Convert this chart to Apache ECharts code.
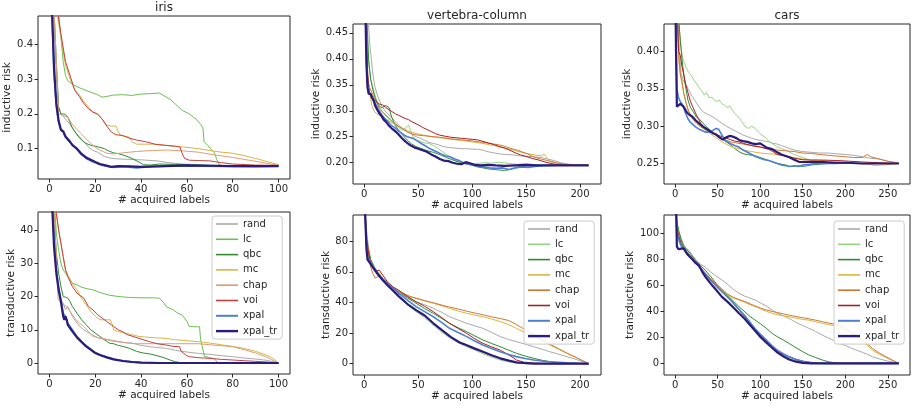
<!DOCTYPE html>
<html><head><meta charset="utf-8">
<script src="https://cdn.jsdelivr.net/npm/echarts@6/dist/echarts.min.js"></script>
<style>html,body{margin:0;padding:0;background:#fff}#c{width:912px;height:406px}</style>
</head><body><div id="c"></div>
<script>
// ---------- names ----------
const seriesNames = ['rand','lc','qbc','mc','chap','voi','xpal','xpal_tr'];
const panelTitles = ['iris','vertebra-column','cars'];

// ---------- tick labels ----------
const irisXTicks = [0,20,40,60,80,100];
const vertXTicks = [0,50,100,150,200];
const carsXTicks = [0,50,100,150,200,250];
const irisIndYTicks = [0.1,0.2,0.3,0.4];
const vertIndYTicks = [0.20,0.25,0.30,0.35,0.40,0.45];
const carsIndYTicks = [0.25,0.30,0.35,0.40];
const irisTrYTicks = [0,10,20,30,40];
const vertTrYTicks = [0,20,40,60,80];
const carsTrYTicks = [0,20,40,60,80,100];

// ---------- iris inductive ----------
const irisInd_rand = [[0,0.67],[2,0.45],[3,0.3],[4,0.22],[5,0.2],[7,0.185],[9,0.17],[11,0.15],[13,0.135],[15,0.12],[17,0.105],[19,0.095],[21,0.09],[24,0.078],[27,0.072],[32,0.07],[40,0.068],[47,0.065],[52,0.06],[58,0.056],[65,0.054],[75,0.052],[85,0.05],[100,0.05]];
const irisInd_lc = [[0,0.67],[3,0.55],[5,0.42],[6,0.35],[7,0.31],[8,0.295],[10,0.285],[12,0.278],[15,0.27],[18,0.262],[21,0.255],[23,0.248],[25,0.25],[28,0.254],[32,0.255],[36,0.253],[40,0.257],[44,0.258],[48,0.26],[50,0.252],[53,0.24],[56,0.222],[58,0.21],[61,0.2],[64,0.185],[66,0.17],[67,0.16],[67.5,0.12],[69,0.11],[71,0.095],[72,0.088],[73,0.07],[74,0.055],[76,0.05],[85,0.05],[100,0.05]];
const irisInd_qbc = [[0,0.67],[2,0.5],[3,0.35],[4,0.22],[5,0.2],[6,0.2],[7,0.198],[8,0.19],[10,0.16],[12,0.14],[14,0.125],[16,0.115],[18,0.11],[20,0.107],[22,0.104],[24,0.1],[26,0.093],[28,0.088],[30,0.086],[33,0.08],[36,0.072],[39,0.062],[41,0.054],[44,0.053],[48,0.056],[55,0.055],[62,0.054],[70,0.052],[80,0.05],[100,0.05]];
const irisInd_mc = [[0,0.67],[3,0.5],[5,0.42],[7,0.34],[9,0.3],[11,0.27],[13,0.255],[15,0.235],[17,0.22],[19,0.205],[21,0.198],[23,0.185],[25,0.168],[27,0.165],[29,0.165],[30,0.15],[31,0.138],[33,0.135],[35,0.133],[36,0.12],[38,0.113],[45,0.113],[50,0.11],[55,0.107],[60,0.104],[65,0.1],[70,0.095],[75,0.09],[80,0.087],[85,0.08],[90,0.072],[95,0.063],[100,0.054]];
const irisInd_chap = [[0,0.67],[2,0.5],[3,0.35],[4,0.2],[6,0.195],[8,0.19],[10,0.17],[12,0.155],[14,0.142],[16,0.128],[18,0.115],[20,0.104],[22,0.096],[25,0.087],[28,0.085],[32,0.088],[38,0.092],[45,0.095],[52,0.096],[58,0.094],[65,0.09],[72,0.082],[80,0.075],[88,0.066],[95,0.058],[100,0.052]];
const irisInd_voi = [[0,0.67],[3,0.52],[5,0.43],[7,0.35],[9,0.31],[11,0.268],[13,0.25],[15,0.23],[17,0.215],[19,0.205],[21,0.2],[23,0.185],[25,0.165],[27,0.148],[29,0.14],[32,0.138],[35,0.13],[38,0.125],[42,0.12],[46,0.113],[50,0.11],[55,0.107],[57,0.105],[58,0.085],[59,0.072],[61,0.067],[65,0.066],[70,0.065],[75,0.06],[80,0.056],[90,0.053],[100,0.052]];
const irisInd_xpal = [[0,0.67],[1,0.5],[2,0.32],[3,0.22],[4,0.175],[5,0.152],[6,0.148],[7,0.133],[8,0.125],[9,0.118],[10,0.112],[12,0.098],[14,0.083],[16,0.072],[18,0.065],[20,0.06],[22,0.054],[25,0.05],[28,0.046],[32,0.049],[38,0.045],[45,0.049],[55,0.05],[65,0.05],[80,0.049],[90,0.048],[100,0.05]];
const irisInd_xpal_tr = [[0,0.67],[1,0.52],[2,0.33],[3,0.23],[4,0.18],[5,0.155],[6,0.15],[7,0.135],[8,0.128],[9,0.12],[10,0.11],[12,0.1],[14,0.085],[16,0.075],[18,0.068],[20,0.062],[22,0.056],[24,0.053],[27,0.048],[30,0.05],[35,0.049],[40,0.048],[50,0.05],[60,0.052],[70,0.051],[80,0.05],[90,0.05],[100,0.05]];

// ---------- iris transductive ----------
const irisTr_rand = [[0,65],[1,55],[2,40],[3,28],[4,22],[5,19],[6,18],[7,16],[8,17],[10,14],[12,12],[14,10.5],[16,9.5],[18,8.8],[20,8],[22,7.4],[25,7],[28,6.5],[32,6.2],[36,6],[40,5.3],[44,4.9],[48,4.6],[51,4.4],[55,3.8],[60,3.3],[65,2.9],[70,2.6],[75,2.2],[80,1.9],[85,1.5],[90,1.2],[95,0.8],[100,0]];
const irisTr_lc = [[0,65],[2,50],[3,39],[4,34],[5,30],[6,28],[7,27],[8,26],[9,25],[10,24],[12,23.5],[14,22.8],[16,22.4],[19,22],[22,21.2],[26,20.4],[30,20],[35,19.7],[40,19.6],[45,19.6],[48,19.5],[50,18],[51,16.9],[54,16],[56,15],[58,14.4],[60,12.5],[61,11],[63,10.9],[65.5,10.9],[66,7],[67,4],[67.7,2],[70,1.6],[72,1.3],[73.5,0],[100,0]];
const irisTr_qbc = [[0,65],[2,45],[3,33],[4,27],[5,23],[6,20],[7,19.8],[8,19.5],[9,18.5],[10,17],[12,15],[14,13],[16,11.5],[18,10],[20,9],[22,8],[24,7],[26,6],[28,5.8],[30,5.3],[32,5],[35,4.4],[38,3.5],[41,3],[44,2.7],[47,2.2],[50,1.6],[53,0.8],[55,0.4],[58,0],[100,0]];
const irisTr_mc = [[0,65],[2,55],[3,45],[4,40],[5,36],[6,32],[7,28],[8,26.5],[10,24],[12,22],[14,19.5],[16,17.5],[18,15.5],[20,14],[22,13],[24,13],[26.5,13],[27.5,11.5],[28,10],[30,9.5],[33,9],[36,8.5],[39,8],[42,7.8],[46,7.6],[51,7.4],[55,7],[60,6.7],[65,6.4],[70,6],[75,5.5],[80,5],[85,4.4],[90,3.5],[95,2.3],[98,1.2],[100,0]];
const irisTr_chap = [[0,65],[2,45],[3,32],[3.8,19],[4,18.4],[6,17.5],[7.5,17],[9,15.5],[11,13.5],[13,12],[15,11],[17,9.5],[19,8],[22,7.5],[26,7],[30,6.5],[34,6],[38,5.8],[45,5.8],[55,5.8],[65,5.8],[70,5.5],[75,5.2],[80,4.9],[85,4],[90,3],[94.5,1.9],[97,1],[100,0]];
const irisTr_voi = [[0,65],[2,55],[3,45],[4,40],[5,36],[6,32],[7,28],[8,26],[10,23],[12,21],[15,19.5],[17,17],[19,16],[21,14.5],[23,13.5],[25,12.5],[27,11.5],[28,11],[30,10],[32,9.4],[34,8.5],[36.5,8],[40,7.2],[43.8,6.4],[47,5.8],[51,5.4],[54,5],[56.8,4.9],[57.5,3.5],[58.3,2.9],[60,2.2],[61,1.9],[65,1.6],[70,1.4],[75,1.1],[80,0.9],[85,0.7],[90,0.5],[95,0.3],[100,0]];
const irisTr_xpal = [[0,65],[1,52],[2,36],[3,28],[4,23],[5,19],[6,15],[7,14],[8,12],[10,10],[12,8],[14,6.5],[16,5.2],[18,4.2],[20,3.2],[22,2.5],[25,1.8],[28,1.2],[32,0.7],[36,0.35],[40,0.15],[48,0],[100,0]];
const irisTr_xpal_tr = [[0,65],[1,50],[2,35],[3,27],[4,22],[5,18.5],[6,14],[6.5,13],[7,14],[7.5,13],[8,11.5],[10,9.5],[12,7.7],[14,6.3],[16,5],[18,4],[20,3],[22,2.4],[25,1.7],[28,1.1],[32,0.6],[36,0.3],[40,0.1],[48,0],[100,0]];

// ---------- vertebra-column inductive ----------
const vertInd_rand = [[0,0.62],[3,0.5],[5,0.43],[6,0.41],[8,0.37],[10,0.345],[13,0.325],[16,0.31],[19,0.3],[22,0.294],[25,0.288],[28,0.281],[32,0.272],[36,0.265],[40,0.26],[44,0.255],[48,0.25],[52,0.247],[56,0.243],[60,0.239],[64,0.237],[68,0.235],[72,0.232],[76,0.23],[80,0.229],[85,0.228],[90,0.227],[95,0.227],[100,0.226],[105,0.226],[110,0.224],[115,0.221],[120,0.219],[125,0.217],[130,0.216],[138,0.215],[145,0.213],[152,0.212],[158,0.211],[164,0.21],[170,0.207],[176,0.204],[182,0.2],[190,0.197],[200,0.196],[208,0.195]];
const vertInd_lc = [[0,0.62],[2,0.48],[4,0.39],[6,0.36],[8,0.345],[10,0.33],[12,0.315],[14,0.307],[17,0.298],[20,0.29],[23,0.284],[26,0.277],[29,0.273],[32,0.268],[35,0.262],[38,0.266],[41,0.272],[43,0.262],[45,0.25],[48,0.244],[52,0.241],[56,0.238],[60,0.237],[64,0.233],[68,0.228],[72,0.222],[76,0.216],[80,0.211],[84,0.205],[88,0.199],[92,0.198],[96,0.199],[100,0.198],[106,0.199],[112,0.2],[118,0.199],[124,0.201],[130,0.2],[136,0.198],[142,0.197],[150,0.198],[160,0.196],[170,0.195],[178,0.195]];
const vertInd_qbc = [[0,0.62],[2,0.5],[4,0.4],[6,0.36],[8,0.34],[10,0.325],[13,0.312],[15,0.307],[17,0.306],[19,0.31],[21,0.309],[23,0.306],[25,0.29],[28,0.275],[31,0.265],[34,0.257],[37,0.25],[40,0.243],[44,0.236],[48,0.231],[52,0.228],[56,0.225],[60,0.222],[64,0.22],[68,0.217],[72,0.214],[76,0.21],[80,0.207],[85,0.203],[90,0.2],[95,0.197],[100,0.195],[105,0.192],[110,0.19],[115,0.188],[120,0.187],[125,0.186],[130,0.185],[135,0.187],[140,0.19],[145,0.193],[150,0.194],[160,0.195],[175,0.195],[190,0.195],[208,0.195]];
const vertInd_mc = [[0,0.62],[2,0.44],[3,0.37],[5,0.335],[7,0.31],[9,0.3],[11,0.295],[14,0.291],[17,0.288],[20,0.284],[24,0.279],[28,0.274],[32,0.27],[36,0.266],[40,0.262],[45,0.258],[50,0.255],[55,0.253],[60,0.251],[65,0.249],[70,0.248],[75,0.247],[80,0.245],[90,0.243],[100,0.24],[110,0.237],[120,0.233],[128,0.23],[135,0.226],[142,0.222],[150,0.218],[158,0.215],[164,0.213],[167,0.216],[169,0.21],[172,0.202],[178,0.199],[185,0.197],[195,0.195],[208,0.195]];
const vertInd_chap = [[0,0.62],[2,0.42],[3,0.36],[5,0.345],[8,0.33],[11,0.318],[14,0.305],[17,0.297],[20,0.292],[24,0.284],[28,0.276],[32,0.27],[36,0.264],[40,0.259],[45,0.255],[50,0.253],[55,0.252],[60,0.251],[65,0.25],[70,0.249],[80,0.246],[90,0.244],[100,0.242],[110,0.239],[120,0.236],[128,0.233],[135,0.228],[142,0.224],[150,0.218],[156,0.212],[162,0.208],[170,0.204],[178,0.2],[185,0.197],[192,0.196],[200,0.195],[208,0.195]];
const vertInd_voi = [[0,0.62],[2,0.45],[3,0.38],[4,0.345],[5,0.335],[6,0.327],[8,0.324],[10,0.32],[12,0.316],[14,0.313],[17,0.311],[20,0.306],[23,0.302],[26,0.298],[29,0.294],[32,0.291],[35,0.288],[38,0.285],[41,0.283],[44,0.279],[47,0.276],[50,0.273],[54,0.268],[58,0.264],[62,0.26],[66,0.256],[70,0.253],[75,0.251],[80,0.249],[85,0.248],[90,0.247],[95,0.246],[100,0.245],[105,0.244],[110,0.241],[115,0.238],[120,0.235],[125,0.231],[130,0.228],[135,0.224],[140,0.219],[145,0.215],[150,0.212],[156,0.208],[162,0.205],[168,0.201],[174,0.198],[180,0.196],[190,0.195],[208,0.195]];
const vertInd_xpal = [[0,0.62],[1,0.5],[2,0.4],[3,0.35],[4,0.336],[6,0.332],[8,0.325],[10,0.315],[13,0.303],[16,0.293],[19,0.285],[22,0.279],[25,0.272],[28,0.268],[31,0.262],[34,0.258],[37,0.253],[40,0.25],[43,0.248],[46,0.246],[49,0.242],[52,0.238],[56,0.233],[60,0.228],[64,0.224],[68,0.22],[72,0.216],[76,0.213],[80,0.211],[84,0.207],[88,0.204],[92,0.2],[96,0.198],[100,0.196],[105,0.193],[110,0.192],[116,0.19],[122,0.189],[128,0.19],[134,0.187],[140,0.19],[146,0.192],[152,0.191],[158,0.193],[165,0.194],[178,0.195]];
const vertInd_xpal_tr = [[0,0.62],[1,0.5],[2,0.39],[3,0.345],[4,0.333],[5,0.33],[6,0.332],[7,0.326],[8,0.328],[9,0.318],[10,0.31],[12,0.302],[14,0.295],[16,0.29],[18,0.283],[20,0.279],[23,0.271],[26,0.265],[29,0.26],[32,0.254],[35,0.247],[38,0.241],[41,0.236],[44,0.232],[47,0.229],[50,0.227],[54,0.224],[58,0.221],[62,0.216],[66,0.212],[70,0.207],[74,0.204],[78,0.203],[82,0.2],[86,0.198],[90,0.197],[94,0.201],[98,0.199],[102,0.196],[108,0.195],[115,0.196],[122,0.195],[130,0.194],[140,0.195],[150,0.196],[160,0.195],[175,0.195],[190,0.195],[208,0.195]];

// ---------- vertebra-column transductive ----------
const vertTr_rand = [[0,110],[1,98],[2,88],[4,76],[6,68],[8,65.6],[12,60],[17,55.8],[22,52],[27,49],[32,47],[40,43.5],[48,40.5],[56,38.5],[64,36.2],[72,33.5],[79,30.7],[87,28.5],[95,26.4],[102,24.8],[110,23.1],[118,20.5],[126,17.7],[134,15.8],[141,14.4],[149,12.8],[157,11.1],[165,9.4],[172,7.8],[180,6.2],[188,4.6],[198,2.4],[208,0]];
const vertTr_lc = [[0,110],[1,92],[2,78],[3,72],[5,68],[8,64],[12,59.5],[17,55],[22,51],[27,47.5],[32,44],[40,38.5],[48,34],[56,30],[64,25.3],[72,20.5],[80,16.5],[88,13.3],[95,11],[102,9],[110,6.5],[118,4.3],[126,2.4],[134,1.2],[141,0.4],[150,0],[208,0]];
const vertTr_qbc = [[0,110],[1,95],[2,82],[4,74],[6,68],[9,63],[13,59.5],[17,56],[22,52.5],[27,50],[32,47],[40,43],[48,39.5],[56,36],[64,32.9],[72,29.5],[79,26.4],[87,23.5],[95,20.9],[102,18.3],[110,15.5],[118,13.2],[126,11.1],[134,8.8],[141,6.8],[149,5],[157,3.5],[165,2.2],[172,1.3],[180,0.5],[188,0.2],[208,0]];
const vertTr_mc = [[0,110],[1,96],[2,84],[4,72],[6,66],[8,62],[11,59],[14,59],[17,56],[22,52],[27,49.5],[32,47],[40,44.5],[48,42.7],[56,41],[64,39.5],[72,37.8],[79,36.2],[87,34.5],[95,32.9],[102,31.8],[110,30.7],[118,29.2],[126,27.5],[134,25.5],[141,23.1],[149,20.4],[157,17.7],[165,15],[172,12.2],[180,9.5],[188,6.8],[198,3.5],[208,0]];
const vertTr_chap = [[0,110],[1,96],[2,84],[4,70],[6,63],[8,59],[10,56],[13,57],[16,55.5],[20,53],[25,50.5],[30,48],[36,46],[42,44],[48,42.8],[56,41.3],[64,39.8],[72,38.3],[79,37],[87,35.8],[95,34.3],[102,33.2],[110,32],[118,30.6],[126,29.5],[134,28.2],[140,26],[146,23.5],[152,21],[158,18.5],[165,15.5],[172,12.8],[180,9.8],[188,6.8],[198,3.5],[208,0]];
const vertTr_voi = [[0,110],[1,95],[2,82],[4,72],[6,66],[9,62],[11,61],[14,61],[17,58],[22,53],[27,50],[32,48],[40,44],[48,40.5],[56,37.5],[64,34],[72,30],[79,26.4],[87,23],[95,19.8],[102,16.5],[110,13.3],[118,11],[126,8.9],[132,6.5],[138,4],[141,2.4],[148,1],[157,0.4],[170,0],[208,0]];
const vertTr_xpal = [[0,110],[1,92],[2,78],[3,70],[5,67],[8,63.5],[12,59.5],[17,55],[22,52],[27,49],[32,46],[40,41.5],[48,37.3],[56,34],[64,30.7],[72,26.8],[79,23.1],[87,20.4],[95,17.7],[102,15],[110,12.2],[118,10],[126,7.8],[134,6],[141,4.6],[149,3.4],[157,2.4],[165,1.7],[172,1.3],[188,0.65],[208,0]];
const vertTr_xpal_tr = [[0,110],[1,95],[2,75],[3,68],[5,66],[8,63],[12,59],[17,54.7],[22,51],[27,47.5],[32,44],[40,39],[48,35],[56,31.5],[64,26.4],[72,22],[80,17.5],[88,14],[95,12],[102,10],[110,7.8],[118,5.5],[126,3.5],[134,2],[141,0.9],[150,0.3],[157,0],[208,0]];

// ---------- cars inductive ----------
const carsInd_rand = [[0,0.5],[3,0.45],[5,0.4],[7,0.37],[10,0.36],[13,0.355],[16,0.348],[20,0.34],[24,0.333],[28,0.326],[32,0.32],[36,0.317],[40,0.315],[45,0.312],[50,0.308],[55,0.304],[60,0.3],[65,0.297],[70,0.294],[75,0.291],[80,0.288],[85,0.286],[90,0.284],[95,0.282],[100,0.281],[105,0.28],[110,0.279],[115,0.277],[120,0.276],[125,0.274],[130,0.272],[135,0.27],[140,0.268],[150,0.266],[160,0.265],[170,0.264],[180,0.264],[190,0.263],[200,0.262],[210,0.261],[220,0.259],[230,0.257],[240,0.256],[250,0.253],[263,0.251]];
const carsInd_lc = [[0,0.55],[3,0.48],[5,0.43],[7,0.405],[9,0.39],[11,0.385],[13,0.378],[16,0.372],[19,0.368],[22,0.362],[25,0.357],[28,0.352],[31,0.348],[34,0.342],[37,0.345],[40,0.338],[43,0.339],[46,0.335],[49,0.333],[52,0.335],[55,0.33],[58,0.328],[61,0.325],[64,0.327],[67,0.322],[70,0.317],[73,0.314],[76,0.31],[79,0.305],[82,0.3],[86,0.297],[90,0.3],[94,0.297],[98,0.292],[102,0.288],[106,0.285],[110,0.28],[115,0.276],[120,0.272],[125,0.27],[130,0.268],[135,0.265],[140,0.262],[145,0.26],[150,0.258],[155,0.256],[160,0.254],[170,0.252],[180,0.251],[200,0.25],[263,0.25]];
const carsInd_qbc = [[0,0.55],[3,0.47],[5,0.43],[6,0.415],[8,0.39],[10,0.37],[12,0.355],[15,0.335],[18,0.325],[21,0.32],[25,0.312],[28,0.31],[32,0.305],[36,0.3],[40,0.296],[45,0.291],[50,0.286],[55,0.283],[60,0.279],[65,0.275],[70,0.27],[75,0.266],[80,0.263],[85,0.262],[90,0.261],[95,0.26],[100,0.258],[105,0.256],[110,0.254],[115,0.252],[120,0.25],[125,0.249],[130,0.248],[135,0.246],[140,0.246],[145,0.247],[150,0.246],[155,0.247],[160,0.248],[170,0.249],[180,0.25],[263,0.25]];
const carsInd_mc = [[0,0.55],[2,0.45],[4,0.39],[6,0.37],[8,0.358],[10,0.345],[13,0.33],[16,0.318],[20,0.31],[25,0.303],[30,0.299],[35,0.295],[40,0.291],[45,0.287],[50,0.283],[55,0.279],[60,0.276],[65,0.273],[70,0.271],[75,0.27],[80,0.268],[90,0.266],[100,0.264],[110,0.263],[120,0.262],[130,0.26],[140,0.258],[150,0.256],[160,0.255],[170,0.2545],[180,0.253],[190,0.252],[200,0.251],[212,0.25],[225,0.249],[235,0.2475],[245,0.248],[255,0.249],[263,0.25]];
const carsInd_chap = [[0,0.55],[2,0.46],[4,0.4],[6,0.37],[8,0.36],[10,0.345],[13,0.33],[16,0.32],[20,0.312],[25,0.305],[30,0.3],[35,0.296],[40,0.293],[45,0.29],[50,0.287],[55,0.284],[60,0.281],[65,0.279],[70,0.278],[75,0.277],[80,0.276],[90,0.274],[100,0.272],[110,0.27],[120,0.268],[130,0.267],[140,0.266],[150,0.264],[160,0.2635],[170,0.262],[180,0.261],[190,0.26],[200,0.259],[210,0.258],[220,0.258],[226,0.262],[230,0.259],[240,0.256],[250,0.253],[263,0.25]];
const carsInd_voi = [[0,0.55],[2,0.47],[4,0.4],[6,0.395],[8,0.38],[10,0.37],[12,0.358],[15,0.345],[18,0.333],[21,0.325],[25,0.315],[30,0.304],[35,0.297],[40,0.293],[45,0.29],[50,0.288],[55,0.286],[60,0.284],[65,0.282],[70,0.28],[75,0.279],[80,0.277],[90,0.274],[100,0.272],[110,0.269],[115,0.266],[120,0.262],[130,0.26],[140,0.257],[150,0.255],[160,0.2545],[175,0.2545],[190,0.254],[205,0.253],[220,0.252],[240,0.251],[263,0.25]];
const carsInd_xpal = [[0,0.5],[1,0.42],[2,0.35],[4,0.338],[6,0.333],[9,0.328],[12,0.318],[15,0.31],[18,0.305],[21,0.302],[24,0.299],[28,0.296],[32,0.294],[36,0.292],[40,0.292],[44,0.294],[48,0.297],[51,0.296],[54,0.29],[58,0.282],[62,0.279],[66,0.276],[70,0.274],[75,0.272],[80,0.268],[85,0.265],[90,0.262],[95,0.259],[100,0.257],[105,0.255],[110,0.254],[115,0.252],[120,0.25],[125,0.248],[130,0.247],[135,0.246],[140,0.247],[145,0.246],[150,0.248],[158,0.249],[165,0.25],[175,0.25],[190,0.25]];
const carsInd_xpal_tr = [[0,0.5],[1,0.4],[2,0.326],[4,0.324],[6,0.33],[8,0.332],[10,0.326],[12,0.322],[14,0.318],[17,0.315],[20,0.313],[24,0.308],[28,0.304],[32,0.3],[36,0.297],[40,0.294],[44,0.291],[48,0.289],[52,0.285],[56,0.282],[60,0.285],[64,0.287],[68,0.286],[72,0.284],[76,0.281],[80,0.28],[85,0.279],[90,0.277],[95,0.276],[100,0.277],[104,0.274],[108,0.271],[112,0.27],[116,0.268],[120,0.265],[125,0.262],[130,0.26],[135,0.258],[140,0.255],[146,0.252],[155,0.252],[165,0.252],[175,0.252],[185,0.251],[200,0.251],[220,0.25],[240,0.25],[263,0.25]];

// ---------- cars transductive ----------
const carsTr_rand = [[0,140],[1,125],[2,110],[4,102],[7,96],[10,91],[13,88],[16,87],[20,83],[25,79],[30,76],[35,74],[42,70],[48,67],[55,64],[62,60.5],[69,56.5],[75,53.7],[82,51.5],[88,50],[94,48.6],[100,46.5],[107,44],[114,41],[120,38.5],[127,36.5],[134,34.5],[142,31.5],[150,29],[157,27],[165,24.5],[173,21.7],[180,19.5],[187,17.5],[193,15.3],[200,13.8],[206,12],[213,10.2],[220,8.5],[226,7],[232,5.1],[240,3.5],[248,2],[256,1],[263,0]];
const carsTr_lc = [[0,140],[1,122],[2,108],[4,100],[7,93],[10,89],[14,86],[18,83],[24,78],[30,73.5],[36,69],[42,64.5],[48,60],[55,55],[62,50.5],[69,45.5],[75,41],[82,35.5],[88,30.5],[94,25],[100,20.5],[107,16],[114,11.5],[120,8.5],[127,6],[134,4],[142,2.2],[150,1],[160,0.3],[170,0],[263,0]];
const carsTr_qbc = [[0,140],[1,122],[2,108],[4,102],[7,95],[10,90],[14,87],[18,84],[24,79],[30,75],[36,71],[42,66.5],[48,61.5],[55,56.3],[62,52],[69,47.5],[75,43.5],[82,39.5],[88,36],[94,33.2],[100,30.5],[107,27],[114,23],[120,20.5],[127,18],[134,15.3],[142,12],[150,9],[157,6.5],[165,4.5],[173,2.6],[180,1.3],[187,0.5],[193,0],[263,0]];
const carsTr_mc = [[0,140],[1,120],[2,105],[4,97],[7,92],[10,88],[14,84],[18,81],[24,77],[30,72],[35,69],[42,64.5],[48,60.5],[55,56.3],[62,52.5],[69,50],[75,48.6],[82,46.8],[88,45],[94,43.5],[100,42],[107,40],[114,38.4],[120,37.3],[127,36.5],[134,35.8],[142,34.7],[150,33.7],[157,33.2],[165,32],[173,30.7],[180,29.8],[187,29],[193,28],[200,25.5],[206,23],[213,20.5],[220,17],[226,13.8],[232,10.2],[240,7],[248,4.5],[256,2],[263,0]];
const carsTr_chap = [[0,140],[1,120],[2,104],[4,96],[7,91],[10,88],[14,84],[18,81],[24,77],[30,72.5],[35,69.5],[42,65],[48,61],[55,57],[62,53],[69,50.5],[75,49],[82,47.5],[88,45.7],[94,44],[100,42.5],[107,41],[114,39.8],[120,39],[127,38],[134,37],[142,36],[150,35],[157,34.2],[165,33.2],[173,32],[180,31],[187,30.2],[193,29.4],[200,27],[206,24.5],[213,21.7],[220,18.5],[226,15],[232,11.5],[240,8],[248,5],[256,2.3],[263,0]];
const carsTr_voi = [[0,140],[1,120],[2,104],[4,98],[7,92],[10,88],[14,85],[18,82],[24,78],[30,73],[36,68.5],[42,64],[48,59.5],[55,55],[62,50.5],[69,45.5],[75,41],[82,36],[88,31],[94,26],[100,21.5],[107,17],[114,12.5],[120,9.5],[127,7],[134,5.1],[142,3.2],[150,1.7],[158,0.8],[165,0.3],[175,0],[263,0]];
const carsTr_xpal = [[0,140],[1,120],[2,100],[4,95],[7,90],[10,88],[14,84],[18,81],[24,77],[30,73],[36,68],[42,63.5],[48,59.5],[55,55],[62,50.5],[69,46],[75,41.5],[82,36.5],[88,31.5],[94,26.5],[100,22.5],[107,18],[114,13.5],[120,10.2],[127,7.5],[134,5.1],[142,3],[150,1.6],[158,0.8],[165,0.3],[175,0],[263,0]];
const carsTr_xpal_tr = [[0,140],[1,120],[2,89.5],[4,87.5],[7,88],[10,88.2],[12,87],[14,84],[16,83],[20,80],[24,77],[28,75],[32,70],[36,66],[42,61],[48,56.5],[55,51],[62,47],[69,42.5],[75,38.4],[82,34],[88,29.5],[94,25],[100,20.5],[107,16],[114,12],[120,8.5],[127,5.5],[134,3],[142,1.3],[150,0.4],[160,0],[263,0]];

// ---------- styling ----------
const FONT = 'DejaVu Sans';
const INK = '#262626';
const palIris = {rand:'#a9a9a9', lc:'#6cbf50', qbc:'#2e8b2e', mc:'#d8b548', chap:'#dc9e78', voi:'#c24040', xpal:'#4d7fd2', xpal_tr:'#2b1b7c'};
const palOther = {rand:'#a9a9a9', lc:'#95d283', qbc:'#2e8b2e', mc:'#d9b440', chap:'#cc7a38', voi:'#a81e1e', xpal:'#4d7fd2', xpal_tr:'#2b1b7c'};
const widths = {rand:1, lc:1, qbc:1, mc:1, chap:1, voi:1, xpal:1.6, xpal_tr:2.2};
const legendWidths = {rand:1.5, lc:1.5, qbc:1.5, mc:1.5, chap:1.6, voi:1.5, xpal:1.9, xpal_tr:2.3};

const panels = [
  {grid:{left:38,top:16,width:252,height:163}, x:[-5,105,irisXTicks], y:[0.013,0.481,irisIndYTicks,1], yname:'inductive risk', gap:20, pal:palIris,
   data:[irisInd_rand,irisInd_lc,irisInd_qbc,irisInd_mc,irisInd_chap,irisInd_voi,irisInd_xpal,irisInd_xpal_tr]},
  {grid:{left:353,top:24,width:248,height:160}, x:[-10.45,219.45,vertXTicks], y:[0.159,0.467,vertIndYTicks,2], yname:'inductive risk', gap:28, pal:palOther,
   data:[vertInd_rand,vertInd_lc,vertInd_qbc,vertInd_mc,vertInd_chap,vertInd_voi,vertInd_xpal,vertInd_xpal_tr]},
  {grid:{left:664,top:24,width:246,height:160}, x:[-13.15,276.15,carsXTicks], y:[0.2225,0.437,carsIndYTicks,2], yname:'inductive risk', gap:28, pal:palOther,
   data:[carsInd_rand,carsInd_lc,carsInd_qbc,carsInd_mc,carsInd_chap,carsInd_voi,carsInd_xpal,carsInd_xpal_tr]},
  {grid:{left:38,top:212,width:252,height:162}, x:[-5,105,irisXTicks], y:[-3.3,45.4,irisTrYTicks,0], yname:'transductive risk', gap:19, pal:palIris,
   data:[irisTr_rand,irisTr_lc,irisTr_qbc,irisTr_mc,irisTr_chap,irisTr_voi,irisTr_xpal,irisTr_xpal_tr]},
  {grid:{left:353,top:215,width:248,height:160}, x:[-10.45,219.45,vertXTicks], y:[-7.4,97.2,vertTrYTicks,0], yname:'transductive risk', gap:17, pal:palOther,
   data:[vertTr_rand,vertTr_lc,vertTr_qbc,vertTr_mc,vertTr_chap,vertTr_voi,vertTr_xpal,vertTr_xpal_tr]},
  {grid:{left:664,top:215,width:246,height:160}, x:[-13.15,276.15,carsXTicks], y:[-8.9,113.8,carsTrYTicks,0], yname:'transductive risk', gap:22.5, pal:palOther,
   data:[carsTr_rand,carsTr_lc,carsTr_qbc,carsTr_mc,carsTr_chap,carsTr_voi,carsTr_xpal,carsTr_xpal_tr]}
];

const grids=[], xAxes=[], yAxes=[], series=[];
panels.forEach((p,i)=>{
  grids.push(Object.assign({show:true, borderColor:INK, borderWidth:1, containLabel:false}, p.grid));
  xAxes.push({type:'value', gridIndex:i, min:p.x[0], max:p.x[1],
    name:'# acquired labels', nameLocation:'middle', nameGap:14,
    nameTextStyle:{fontFamily:FONT, fontSize:10.5, color:INK},
    axisLine:{show:false, onZero:false},
    axisTick:{show:true, inside:false, length:3.5, lineStyle:{color:INK}, customValues:p.x[2]},
    axisLabel:{fontFamily:FONT, fontSize:10, color:INK, margin:5, customValues:p.x[2], formatter:v=>String(v)},
    splitLine:{show:false}});
  const dec = p.y[3];
  yAxes.push({type:'value', gridIndex:i, min:p.y[0], max:p.y[1],
    name:p.yname, nameLocation:'middle', nameGap:p.gap,
    nameTextStyle:{fontFamily:FONT, fontSize:10.5, color:INK},
    axisLine:{show:false, onZero:false},
    axisTick:{show:true, inside:false, length:3.5, lineStyle:{color:INK}, customValues:p.y[2]},
    axisLabel:{fontFamily:FONT, fontSize:10, color:INK, margin:5, customValues:p.y[2],
      formatter:v=> dec===0 ? String(Math.round(v)) : Number(v).toFixed(dec)},
    splitLine:{show:false}});
  seriesNames.forEach((n,k)=>{
    series.push({type:'line', name:n, xAxisIndex:i, yAxisIndex:i, data:p.data[k],
      symbol:'none', showSymbol:false, clip:true, silent:true, animation:false,
      lineStyle:{color:p.pal[n], width:widths[n]}, itemStyle:{color:p.pal[n]}});
  });
});

function lineIcon(h){ return 'path://M0,0L21,0L21,' + h + 'L0,' + h + 'Z'; }
function legendAt(left, top, pal){
  return {orient:'vertical', left:left, top:top, itemWidth:22, itemHeight:10, itemGap:5.3,
    padding:[3,5,3,4], backgroundColor:'rgba(255,255,255,0.85)', borderColor:'#cccccc', borderWidth:1, borderRadius:3,
    textStyle:{fontFamily:FONT, fontSize:10, color:INK}, selectedMode:false, itemStyle:{borderWidth:0},
    data: seriesNames.map(n=>({name:n, icon:lineIcon(legendWidths[n]), itemStyle:{color:pal[n], borderWidth:0}}))};
}

const titles = [
  {text:panelTitles[0], left:164, top:2, textAlign:'center'},
  {text:panelTitles[1], left:477, top:10, textAlign:'center'},
  {text:panelTitles[2], left:787, top:10, textAlign:'center'}
].map(t=>Object.assign(t,{textStyle:{fontFamily:FONT, fontSize:12, fontWeight:'normal', color:INK}, padding:0}));

const chart = echarts.init(document.getElementById('c'), null, {renderer:'canvas'});
chart.setOption({
  animation:false, backgroundColor:'#fff',
  title:titles, grid:grids, xAxis:xAxes, yAxis:yAxes, series:series,
  legend:[legendAt(212,216,palIris), legendAt(524,221,palOther), legendAt(834,221,palOther)]
});
</script></body></html>
